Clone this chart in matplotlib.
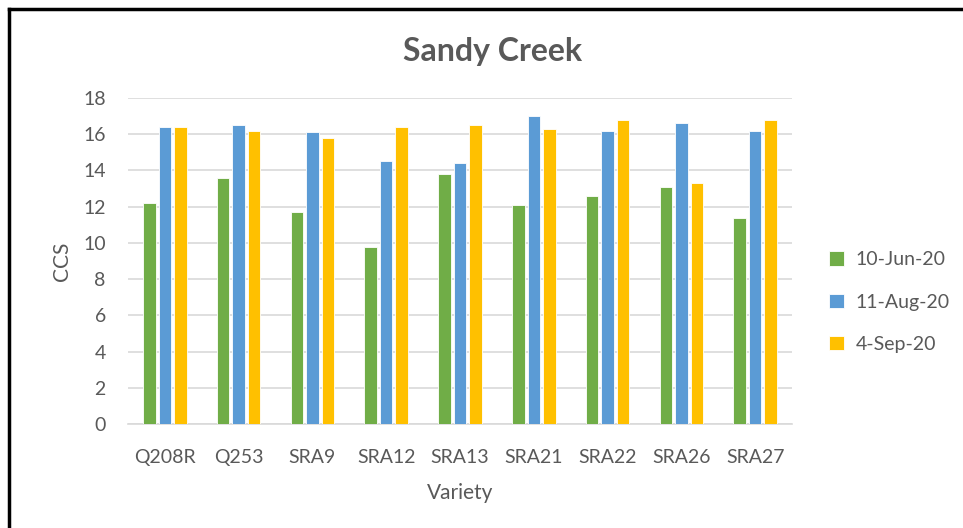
import numpy as np
import matplotlib
matplotlib.use("Agg")
import matplotlib.pyplot as plt
from matplotlib.lines import Line2D

varieties = ["Q208R", "Q253", "SRA9", "SRA12", "SRA13", "SRA21", "SRA22", "SRA26", "SRA27"]
jun_10 = [12.2, 13.6, 11.7, 9.8, 13.8, 12.1, 12.6, 13.1, 11.4]
aug_11 = [16.4, 16.5, 16.1, 14.5, 14.4, 17.0, 16.2, 16.6, 16.2]
sep_4 = [16.4, 16.2, 15.8, 16.4, 16.5, 16.3, 16.8, 13.3, 16.8]
series_names = ["10-Jun-20", "11-Aug-20", "4-Sep-20"]
colors = ["#70AD47", "#5B9BD5", "#FFC000"]

plt.rcParams['font.family'] = ['Lato', 'DejaVu Sans']
text_col = "#595959"

fig = plt.figure(figsize=(9.63, 5.28), dpi=100)
ax = fig.add_axes([128 / 963, 1 - 424 / 528, 664 / 963, 326 / 528])

x = np.arange(len(varieties))
w = 0.17
offs = [-0.21, 0.0, 0.21]
for vals, off, c, name in zip([jun_10, aug_11, sep_4], offs, colors, series_names):
    ax.bar(x + off, vals, width=w, color=c, label=name, zorder=3,
           edgecolor="white", linewidth=0.6)

ax.set_xlim(-0.5, len(varieties) - 0.5)
ax.set_ylim(0, 18)
ax.set_yticks(range(0, 19, 2))
ax.set_xticks(x)
ax.set_xticklabels(varieties)
ax.grid(axis='y', color="#D9D9D9", linewidth=1.2, zorder=0)
for s in ["top", "right", "left"]:
    ax.spines[s].set_visible(False)
ax.spines["bottom"].set_color("#D9D9D9")
ax.spines["bottom"].set_linewidth(1.2)
ax.tick_params(length=0, labelsize=14, colors=text_col)
ax.tick_params(axis='x', pad=18)
ax.tick_params(axis='y', pad=16)

ax.set_xlabel("Variety", fontsize=15, color=text_col, labelpad=12)
ax.set_ylabel("CCS", fontsize=15, color=text_col, labelpad=8)
fig.text(0.512, 1 - 51 / 528, "Sandy Creek", ha="center", va="center",
         fontsize=23, fontweight="bold", color=text_col)

leg = ax.legend(loc="center left", bbox_to_anchor=(1.03, 0.374), frameon=False,
                fontsize=14, labelspacing=1.3, handlelength=0.75, handleheight=0.75,
                handletextpad=0.6)
for t in leg.get_texts():
    t.set_color(text_col)

# outer frame (runs off the right and bottom edges)
fig.add_artist(Line2D([9 / 963, 9 / 963], [0, 1 - 9 / 528], color="black", linewidth=2.5,
                      transform=fig.transFigure))
fig.add_artist(Line2D([9 / 963, 1], [1 - 9 / 528, 1 - 9 / 528], color="black", linewidth=2.5,
                      transform=fig.transFigure))

fig.savefig("out.png", dpi=100)
